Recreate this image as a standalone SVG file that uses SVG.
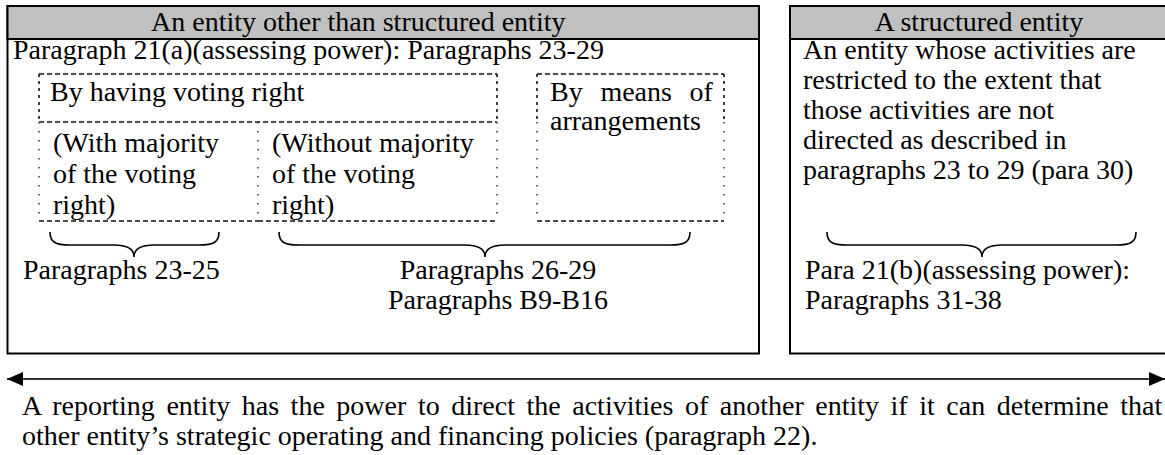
<svg xmlns="http://www.w3.org/2000/svg" width="1165" height="455" viewBox="0 0 1165 455">
<style>
text{font-family:"Liberation Serif","Times New Roman",serif;font-size:28px;fill:#000}
.box{fill:#fff;stroke:#000;stroke-width:2}
.hdr{fill:#c0c0c0;stroke:#000;stroke-width:2}
.dash{fill:none;stroke:#111;stroke-width:1.6;stroke-dasharray:5 3}
.vdash{fill:none;stroke:#111;stroke-width:1.6;stroke-dasharray:3 4}
.dot{fill:none;stroke:#444;stroke-width:1.6;stroke-dasharray:1.6 7.4}
.brace{fill:none;stroke:#000;stroke-width:1.6}
.arrow{fill:none;stroke:#333;stroke-width:2}
</style>
<defs>
<marker id="ah" viewBox="0 0 16 14" refX="16" refY="7" markerWidth="16" markerHeight="14" markerUnits="userSpaceOnUse" orient="auto-start-reverse">
<path d="M0,0 L16,7 L0,14 z" fill="#000"/>
</marker>
</defs>

<g id="other-entity">
<rect class="box" x="7.5" y="6" width="751.5" height="347.5"/>
<rect class="hdr" x="7.5" y="6" width="751.5" height="33"/>
<text x="151" y="31">An entity other than structured entity</text>
<text x="13" y="59">Paragraph 21(a)(assessing power): Paragraphs 23-29</text>
</g>

<g id="voting-right">
<path class="dash" d="M39,74 H497"/>
<path class="vdash" d="M39,74 V122 M497,74 V122"/>
<path class="dash" d="M39,122 H497"/>
<text x="50" y="101">By having voting right</text>
</g>

<g id="with-majority">
<path class="dot" d="M39,122 V221 M258,122 V221"/>
<path class="dash" d="M39,221 H258"/>
<text x="53" y="152">(With majority</text>
<text x="53" y="183">of the voting</text>
<text x="53" y="214">right)</text>
</g>

<g id="without-majority">
<path class="dot" d="M497,122 V221"/>
<path class="dash" d="M258,221 H497"/>
<text x="272" y="152">(Without majority</text>
<text x="272" y="183">of the voting</text>
<text x="272" y="214">right)</text>
</g>

<g id="arrangements">
<path class="dash" d="M537,74 H724"/>
<path class="vdash" d="M537,74 V122 M724,74 V122"/>
<path class="dot" d="M537,122 V221 M724,122 V221"/>
<path class="dash" d="M537,221 H724"/>
<text x="550" y="101" word-spacing="10.7">By means of</text>
<text x="550" y="130">arrangements</text>
</g>

<g id="structured-entity">
<rect class="box" x="790" y="6" width="380" height="347.5"/>
<rect class="hdr" x="790" y="6" width="380" height="33"/>
<text x="979" y="31" text-anchor="middle">A structured entity</text>
<text x="803" y="59">An entity whose activities are</text>
<text x="803" y="89">restricted to the extent that</text>
<text x="803" y="119">those activities are not</text>
<text x="803" y="149">directed as described in</text>
<text x="803" y="179">paragraphs 23 to 29 (para 30)</text>
</g>

<g id="label-23-25">
<text x="23" y="279">Paragraphs 23-25</text>
</g>
<g id="label-26-29">
<text x="498" y="279" text-anchor="middle">Paragraphs 26-29</text>
<text x="498" y="309" text-anchor="middle">Paragraphs B9-B16</text>
</g>
<g id="label-21b">
<text x="805" y="279">Para 21(b)(assessing power):</text>
<text x="805" y="309">Paragraphs 31-38</text>
</g>

<g id="connectors">
<path class="brace" d="M50,232 C50,242 55,245 70,245 L114,245 C126,245 134,248 134,257 C134,248 142,245 154,245 L199,245 C214,245 219,242 219,232"/>
<path class="brace" d="M279,232 C279,242 284,245 299,245 L465,245 C477,245 485,248 485,257 C485,248 493,245 505,245 L670,245 C685,245 690,242 690,232"/>
<path class="brace" d="M827,232 C827,242 832,245 847,245 L962,245 C974,245 982,248 982,257 C982,248 990,245 1002,245 L1116,245 C1131,245 1136,242 1136,232"/>
<line class="arrow" x1="7" y1="379" x2="1165" y2="379" marker-start="url(#ah)" marker-end="url(#ah)"/>
</g>

<g id="caption">
<text x="22" y="415" word-spacing="4.55">A reporting entity has the power to direct the activities of another entity if it can determine that</text>
<text x="22" y="445">other entity’s strategic operating and financing policies (paragraph 22).</text>
</g>
</svg>
